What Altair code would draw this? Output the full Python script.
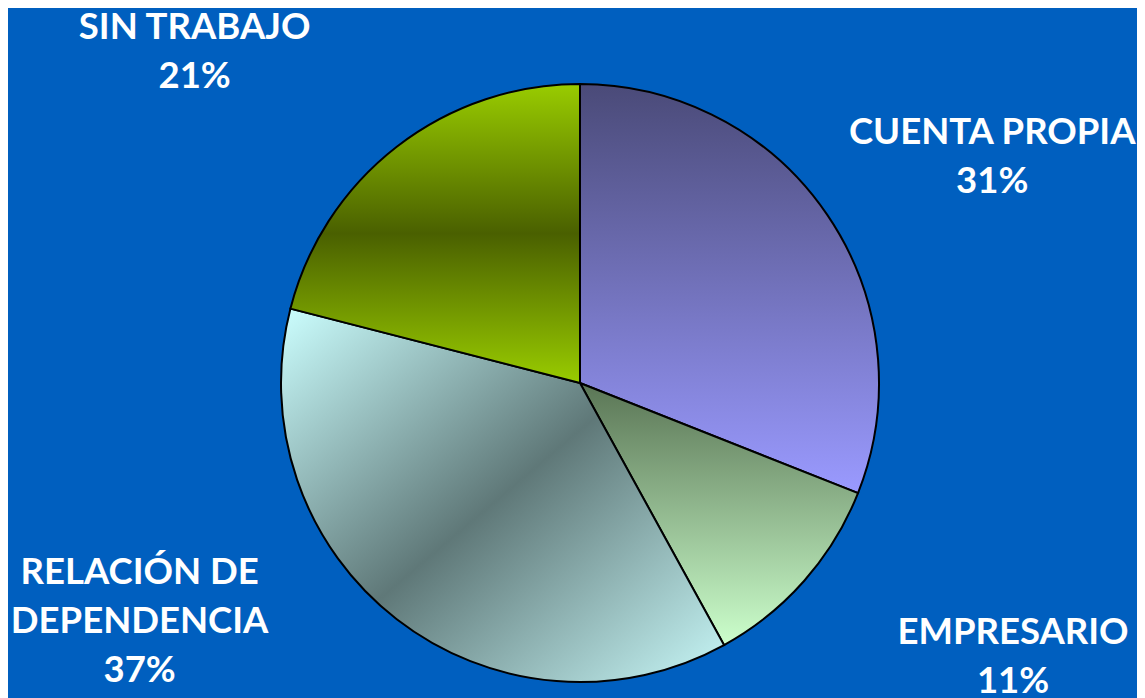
import altair as alt
import pandas as pd

categories = ["CUENTA PROPIA", "EMPRESARIO", "RELACIÓN DE DEPENDENCIA", "SIN TRABAJO"]
label_lines = ["CUENTA PROPIA", "EMPRESARIO", "RELACIÓN DE\nDEPENDENCIA", "SIN TRABAJO"]
values = [31, 11, 37, 21]
order = [0, 1, 2, 3]

df = pd.DataFrame({"cat": categories, "label": label_lines, "value": values, "order": order})

BG = "#005FBF"
CX, CY = 572, 375
R = 299


def lin(stops, x2=0, y2=1):
    return {
        "gradient": "linear",
        "x1": 0, "y1": 0, "x2": x2, "y2": y2,
        "stops": [{"offset": o, "color": c} for o, c in stops],
    }


fills = {
    "CUENTA PROPIA": lin([(0, "#4a4a78"), (1, "#9a9aff")]),
    "EMPRESARIO": lin([(0, "#5a7555"), (1, "#ccffcc")]),
    "RELACIÓN DE DEPENDENCIA": lin([(0, "#ccffff"), (0.5, "#5f7878"), (1, "#c8f8f8")], x2=1, y2=1),
    "SIN TRABAJO": lin([(0, "#99cc00"), (0.5, "#4a6000"), (1, "#99cc00")]),
}

# label offsets (style) relative to a point at the slice's mid angle
label_pos = {
    "CUENTA PROPIA": (131, -59),
    "EMPRESARIO": (178, 25),
    "RELACIÓN DE DEPENDENCIA": (-232, -79),
    "SIN TRABAJO": (-177, -86),
}

base = (
    alt.Chart(df)
    .transform_window(cum="sum(value)", sort=[alt.SortField("order")])
    .transform_calculate(
        start="datum.cum - datum.value",
        mid="datum.cum - datum.value / 2",
        txt="datum.label + '\\n' + datum.value + '%'",
    )
)

theta_scale = alt.Scale(domain=[0, 100])

layers = []
for c in categories:
    layers.append(
        base.transform_filter(alt.datum.cat == c)
        .mark_arc(radius=R, fill=fills[c], stroke="black", strokeWidth=2)
        .encode(
            theta=alt.Theta("start:Q", scale=theta_scale),
            theta2="cum:Q",
            x=alt.value(CX),
            y=alt.value(CY),
        )
    )

for c in categories:
    dx, dy = label_pos[c]
    layers.append(
        base.transform_filter(alt.datum.cat == c)
        .mark_text(
            radius=340,
            dx=dx,
            dy=dy,
            font="Lato",
            fontWeight="bold",
            fontSize=36.5,
            lineHeight=49,
            lineBreak="\n",
            color="white",
            align="center",
            baseline="middle",
        )
        .encode(
            theta=alt.Theta("mid:Q", scale=theta_scale),
            text="txt:N",
            x=alt.value(CX),
            y=alt.value(CY),
        )
    )

chart = (
    alt.layer(*layers)
    .properties(
        width=1129,
        height=690,
        background=BG,
        padding=0,
        autosize=alt.AutoSizeParams(type="none"),
    )
    .configure_view(stroke=None)
)

chart.save("out.html", embed_options={"renderer": "svg", "actions": False})
